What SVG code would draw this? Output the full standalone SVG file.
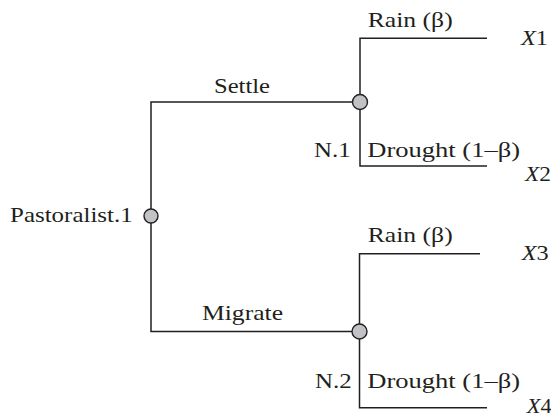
<svg xmlns="http://www.w3.org/2000/svg" width="551" height="416" viewBox="0 0 551 416">
<style>
text{font-family:"Liberation Serif","Times New Roman",serif;font-size:21.5px;fill:#231f20}
.it{font-style:italic}
.edge{fill:none;stroke:#231f20;stroke-width:1.5}
.node{fill:#c2c2c6;stroke:#231f20;stroke-width:1.4}
</style>
<rect width="551" height="416" fill="#fff"/>
<g id="connectors">
<path class="edge" d="M151,209 V102 H352.5"/>
<path class="edge" d="M151,223 V331.5 H352"/>
<path class="edge" d="M360,94.5 V38.3 H487"/>
<path class="edge" d="M360,109.5 V166 H487"/>
<path class="edge" d="M359.5,324 V253.7 H480"/>
<path class="edge" d="M359.5,339 V407.7 H487"/>
<text x="214" y="93.3" textLength="56" lengthAdjust="spacingAndGlyphs">Settle</text>
<text x="202" y="320" textLength="81" lengthAdjust="spacingAndGlyphs">Migrate</text>
<text x="367.7" y="26.7" textLength="85" lengthAdjust="spacingAndGlyphs">Rain (β)</text>
<text x="367.3" y="157" textLength="152.7" lengthAdjust="spacingAndGlyphs">Drought (1–β)</text>
<text x="367.7" y="242" textLength="85" lengthAdjust="spacingAndGlyphs">Rain (β)</text>
<text x="367.3" y="387.5" textLength="152.7" lengthAdjust="spacingAndGlyphs">Drought (1–β)</text>
</g>
<g id="pastoralist1">
<circle class="node" cx="151" cy="216" r="7"/>
<text x="10" y="221.7" textLength="122.7" lengthAdjust="spacingAndGlyphs">Pastoralist.1</text>
</g>
<g id="n1">
<circle class="node" cx="360" cy="102" r="7.5"/>
<text x="314" y="157.3" textLength="36.7" lengthAdjust="spacingAndGlyphs">N.1</text>
</g>
<g id="n2">
<circle class="node" cx="359.5" cy="331.5" r="7.5"/>
<text x="315" y="387.5" textLength="36.7" lengthAdjust="spacingAndGlyphs">N.2</text>
</g>
<g id="x1"><text x="521" y="45" textLength="27" lengthAdjust="spacingAndGlyphs"><tspan class="it">X</tspan>1</text></g>
<g id="x2"><text x="525" y="181" textLength="26" lengthAdjust="spacingAndGlyphs"><tspan class="it">X</tspan>2</text></g>
<g id="x3"><text x="521.7" y="260" textLength="27" lengthAdjust="spacingAndGlyphs"><tspan class="it">X</tspan>3</text></g>
<g id="x4"><text x="526.7" y="412.5" textLength="25" lengthAdjust="spacingAndGlyphs"><tspan class="it">X</tspan>4</text></g>
</svg>
